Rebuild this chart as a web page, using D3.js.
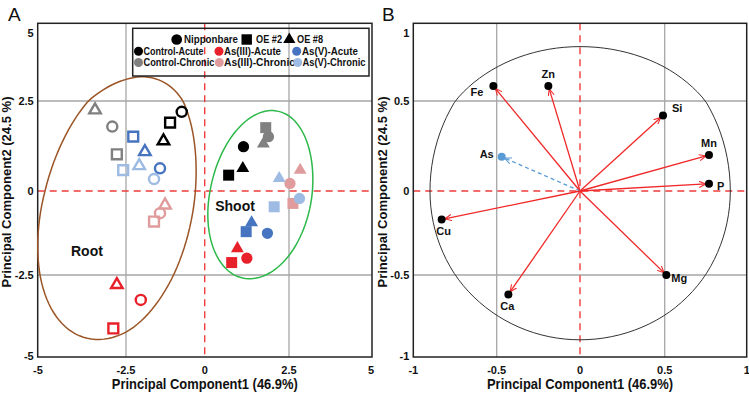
<!DOCTYPE html>
<html>
<head>
<meta charset="utf-8">
<script src="https://cdn.jsdelivr.net/npm/d3@7"></script>
<style>
  body { margin: 0; background: #fff; }
  svg text { font-family: "Liberation Sans", "Open Sans", sans-serif; font-weight: bold; fill: #111; }
</style>
</head>
<body>
<svg id="chart" width="749" height="393"></svg>
<script>
// ---- data ----
const genotypes = ["Nipponbare", "OE #2", "OE #8"];
const treatments = ["Control-Acute", "As(III)-Acute", "As(V)-Acute",
                    "Control-Chronic", "As(III)-Chronic", "As(V)-Chronic"];

// scores, one row per treatment, columns = Nipponbare, OE #2, OE #8
const rootPC1 = [
  [-0.73, -1.10, -1.31],
  [-2.03, -2.86, -2.76],
  [-1.42, -2.27, -1.90],
  [-2.89, -2.76, -3.38],
  [-1.42, -1.61, -1.26],
  [-1.61, -2.58, -2.08]
];
const rootPC2 = [
  [2.20, 1.90, 1.39],
  [-3.27, -4.15, -2.80],
  [0.63, 1.51, 1.09],
  [1.79, 1.02, 2.25],
  [-0.66, -0.91, -0.42],
  [0.33, 0.58, 0.70]
];
const shootPC1 = [
  [1.15, 0.71, 1.13],
  [1.25, 0.80, 0.97],
  [1.86, 1.23, 1.39],
  [1.89, 1.81, 1.74],
  [2.53, 2.62, 2.84],
  [2.82, 2.06, 2.21]
];
const shootPC2 = [
  [1.23, 0.44, 0.63],
  [-2.00, -2.13, -1.71],
  [-1.26, -1.21, -0.94],
  [1.51, 1.76, 1.31],
  [0.21, -0.37, 0.58],
  [-0.22, -0.47, 0.35]
];

// loadings (panel B)
const elements = ["Fe", "Zn", "Si", "Mn", "P", "As", "Cu", "Mg", "Ca"];
const loadPC1 = [-0.52, -0.19, 0.49, 0.77, 0.77, -0.47, -0.83, 0.51, -0.43];
const loadPC2 = [0.61, 0.61, 0.42, 0.20, 0.04, 0.19, -0.17, -0.50, -0.62];

const ticksA = [-5, -2.5, 0, 2.5, 5];
const ticksB = [-1, -0.5, 0, 0.5, 1];

// ---- style ----
const treatColors = ["#000000", "#e8202a", "#4674c0", "#808080", "#e09c9c", "#9dbbe3"];
const shapes = [d3.symbolCircle, d3.symbolSquare, d3.symbolTriangle];
const shapeSize = [100, 121, 72];

const svg = d3.select("#chart");

// panel frames (pixel layout)
const A = { left: 37.7, right: 372, top: 23.3, bottom: 357 };
const B = { left: 413.3, right: 746.7, top: 23.3, bottom: 357 };

// axis stops follow the original figure's gridline placement
const yStops = [356, 275, 191, 101, 33];
const xA = d3.scaleLinear().domain(ticksA).range([38, 126, 204.7, 289, 371]);
const yA = d3.scaleLinear().domain(ticksA).range(yStops);
const xB = d3.scaleLinear().domain(ticksB).range([413.3, 496.7, 580, 664.7, 746.7]);
const yB = d3.scaleLinear().domain(ticksB).range(yStops);

function drawFrame(P, x, y, ticks, yTitleX, letter, letterX) {
  const g = svg.append("g");
  // grey gridlines
  [ticks[1], ticks[3]].forEach(t => {
    g.append("line").attr("x1", x(t)).attr("x2", x(t)).attr("y1", P.top).attr("y2", P.bottom)
      .attr("stroke", "#a6a6a6").attr("stroke-width", 1.3);
    g.append("line").attr("x1", P.left).attr("x2", P.right).attr("y1", y(t)).attr("y2", y(t))
      .attr("stroke", "#a6a6a6").attr("stroke-width", 1.3);
  });
  // red dashed zero lines
  g.append("line").attr("x1", x(0)).attr("x2", x(0)).attr("y1", P.top).attr("y2", P.bottom)
    .attr("stroke", "#f03c3c").attr("stroke-width", 1.4).attr("stroke-dasharray", "7,5");
  g.append("line").attr("x1", P.left).attr("x2", P.right).attr("y1", y(0)).attr("y2", y(0))
    .attr("stroke", "#f03c3c").attr("stroke-width", 1.4).attr("stroke-dasharray", "7,5");
  g.append("rect").attr("x", P.left).attr("y", P.top)
    .attr("width", P.right - P.left).attr("height", P.bottom - P.top)
    .attr("fill", "none").attr("stroke", "#222").attr("stroke-width", 1.5);

  // tick labels
  g.selectAll(".xt").data(ticks).join("text")
    .attr("x", d => x(d)).attr("y", 374).attr("text-anchor", "middle")
    .attr("font-size", 11).text(d => d);
  g.selectAll(".yt").data(ticks).join("text")
    .attr("x", P.left - 4).attr("y", d => y(d) + 4).attr("text-anchor", "end")
    .attr("font-size", 11).text(d => d);

  g.append("text").attr("x", (P.left + P.right) / 2).attr("y", 389)
    .attr("text-anchor", "middle").attr("font-size", 14)
    .attr("textLength", 186).attr("lengthAdjust", "spacingAndGlyphs")
    .text("Principal Component1 (46.9%)");
  g.append("text").attr("transform", `translate(${yTitleX},192) rotate(-90)`)
    .attr("text-anchor", "middle").attr("font-size", 13.5)
    .attr("textLength", 191).attr("lengthAdjust", "spacingAndGlyphs")
    .text("Principal Component2  (24.5 %)");
  g.append("text").attr("x", letterX).attr("y", 21)
    .attr("font-size", 19).style("font-weight", "normal").text(letter);
}

drawFrame(A, xA, yA, ticksA, 11, "A", 8);
drawFrame(B, xB, yB, ticksB, 387, "B", 382);

// ---- panel A: ellipses ----
function ellipse(cx, cy, a, b, tiltDeg, x, y) {
  const th = tiltDeg * Math.PI / 180;
  const pts = d3.range(0, 361, 3).map(deg => {
    const t = deg * Math.PI / 180;
    const u = b * Math.cos(t), v = a * Math.sin(t);
    return [x(cx + u * Math.cos(th) + v * Math.sin(th)), y(cy - u * Math.sin(th) + v * Math.cos(th))];
  });
  return d3.line()(pts);
}
svg.append("path").attr("d", ellipse(-2.64, -0.55, 4.02, 2.23, 13.8, xA, yA))
  .attr("fill", "none").attr("stroke", "#9b5526").attr("stroke-width", 1.5);
svg.append("path").attr("d", ellipse(1.66, -0.19, 2.46, 1.51, 12.5, xA, yA))
  .attr("fill", "none").attr("stroke", "#2db84a").attr("stroke-width", 1.5);

svg.append("text").attr("x", xA(-3.61)).attr("y", yA(-1.93)).attr("text-anchor", "middle")
  .attr("font-size", 14).text("Root");
svg.append("text").attr("x", xA(0.9)).attr("y", yA(-0.6)).attr("text-anchor", "middle")
  .attr("font-size", 14).text("Shoot");

// ---- panel A: points ----
const pts = [];
treatments.forEach((t, i) => {
  genotypes.forEach((gname, j) => {
    pts.push({ organ: "root", t: i, g: j, x: rootPC1[i][j], y: rootPC2[i][j] });
    pts.push({ organ: "shoot", t: i, g: j, x: shootPC1[i][j], y: shootPC2[i][j] });
  });
});

svg.append("g").selectAll("path").data(pts).join("path")
  .attr("transform", d => `translate(${xA(d.x)},${yA(d.y)})`)
  .attr("d", d => d3.symbol(shapes[d.g], d.organ === "root" ? shapeSize[d.g] * 0.8 : shapeSize[d.g])())
  .attr("fill", d => d.organ === "shoot" ? treatColors[d.t] : "none")
  .attr("stroke", d => treatColors[d.t])
  .attr("stroke-width", d => d.organ === "root" ? 2.4 : 0);

// ---- legend ----
const leg = svg.append("g");
leg.append("rect").attr("x", 132.7).attr("y", 28.3).attr("width", 236.3).attr("height", 47.7)
  .attr("fill", "none").attr("stroke", "#222").attr("stroke-width", 1.5);
const genoLeg = [
  { sx: 176.7, tx: 184, w: 54 },
  { sx: 246.7, tx: 256, w: 26 },
  { sx: 289.3, tx: 297, w: 26 }
];
genotypes.forEach((gname, j) => {
  const L = genoLeg[j];
  leg.append("path").attr("transform", `translate(${L.sx},39.5)`)
    .attr("d", d3.symbol(shapes[j], shapeSize[j] * 0.9)()).attr("fill", "#000");
  leg.append("text").attr("x", L.tx).attr("y", 43.3).attr("font-size", 10)
    .attr("textLength", L.w).attr("lengthAdjust", "spacingAndGlyphs").text(gname);
});
const treatLeg = [
  { sx: 138.5, tx: 143.5, w: 60 }, { sx: 219, tx: 224, w: 57 }, { sx: 296.7, tx: 302, w: 56 },
  { sx: 138.5, tx: 143.5, w: 71 }, { sx: 219.3, tx: 224, w: 71 }, { sx: 297.7, tx: 302.5, w: 63 }
];
treatments.forEach((t, i) => {
  const L = treatLeg[i];
  const cy = i < 3 ? 51.2 : 62.5;
  leg.append("circle").attr("cx", L.sx).attr("cy", cy).attr("r", 4.5).attr("fill", treatColors[i]);
  leg.append("text").attr("x", L.tx).attr("y", cy + 3.6).attr("font-size", 10)
    .attr("textLength", L.w).attr("lengthAdjust", "spacingAndGlyphs").text(t);
});

// ---- panel B: loadings ----
const circ = d3.range(0, 361, 3).map(deg => {
  const t = deg * Math.PI / 180;
  return [xB(0.9 * Math.cos(t)), yB(0.9 * Math.sin(t))];
});
svg.append("path").attr("d", d3.line()(circ)).attr("fill", "none")
  .attr("stroke", "#333").attr("stroke-width", 1);

const defs = svg.append("defs");
[["arrRed", "#f02828"], ["arrBlue", "#5b9bd5"]].forEach(([id, c]) => {
  defs.append("marker").attr("id", id).attr("viewBox", "0 -4 8 8")
    .attr("refX", 8).attr("refY", 0).attr("markerWidth", 7).attr("markerHeight", 7)
    .attr("markerUnits", "userSpaceOnUse").attr("orient", "auto")
    .append("path").attr("d", "M0,-3.5L8,0L0,3.5").attr("fill", "none")
    .attr("stroke", c).attr("stroke-width", 1.2);
});

const labelPos = {
  Fe: [-10, 10, "end"], Zn: [0, -8, "middle"], Si: [9, -3, "start"],
  Mn: [0, -8, "middle"], P: [8, 6, "start"], As: [-8, 1, "end"],
  Cu: [2, 15, "middle"], Mg: [5, 7, "start"], Ca: [-1, 16, "middle"]
};
const loads = elements.map((e, i) => ({ e, x: loadPC1[i], y: loadPC2[i] }));
const gB = svg.append("g");
loads.forEach(d => {
  const px = xB(d.x), py = yB(d.y), ox = xB(0), oy = yB(0);
  const len = Math.hypot(px - ox, py - oy), k = (len - 3) / len;
  const isAs = d.e === "As";
  gB.append("line").attr("x1", ox).attr("y1", oy)
    .attr("x2", ox + (px - ox) * k).attr("y2", oy + (py - oy) * k)
    .attr("stroke", isAs ? "#5b9bd5" : "#f02828").attr("stroke-width", 1.3)
    .attr("stroke-dasharray", isAs ? "4,3" : null)
    .attr("marker-end", `url(#${isAs ? "arrBlue" : "arrRed"})`);
});
gB.selectAll("circle").data(loads).join("circle")
  .attr("cx", d => xB(d.x)).attr("cy", d => yB(d.y)).attr("r", 4)
  .attr("fill", d => d.e === "As" ? "#5b9bd5" : "#000");
gB.selectAll("text").data(loads).join("text")
  .attr("x", d => xB(d.x) + labelPos[d.e][0]).attr("y", d => yB(d.y) + labelPos[d.e][1])
  .attr("text-anchor", d => labelPos[d.e][2]).attr("font-size", 11)
  .text(d => d.e);
</script>
</body>
</html>
